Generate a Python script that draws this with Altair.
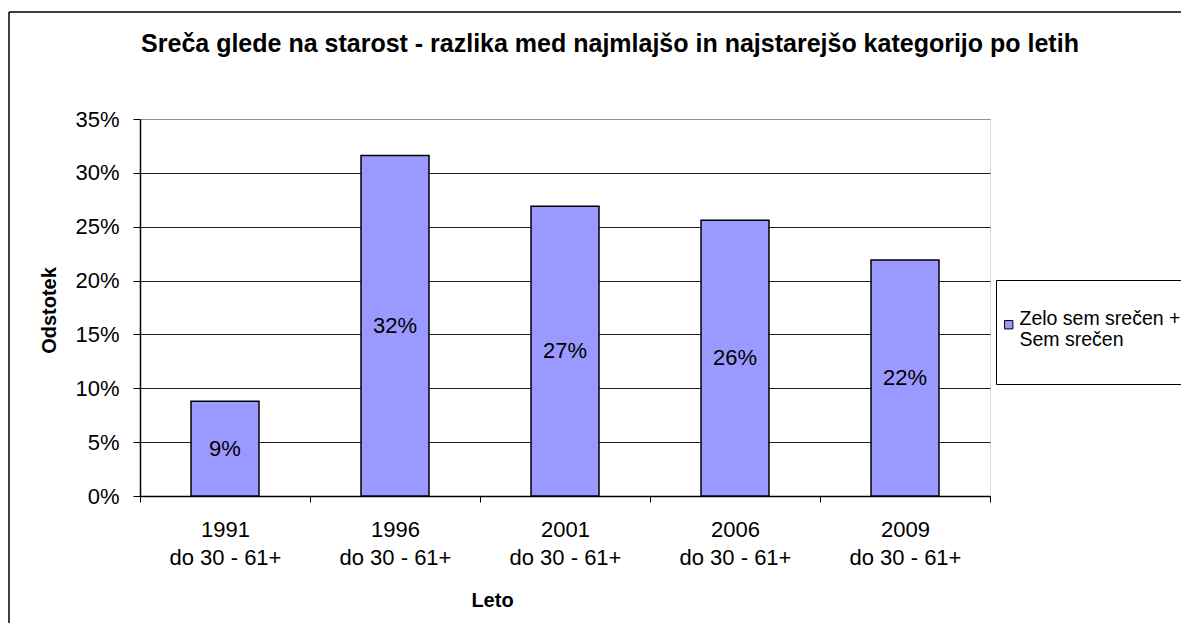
import altair as alt
import pandas as pd

# ---- data ----
years = ["1991", "1996", "2001", "2006", "2009"]
group_label = "do 30 - 61+"
values = [0.088, 0.316, 0.269, 0.256, 0.219]
series_name = "Zelo sem srečen + Sem srečen"
y_ticks = [0, 0.05, 0.10, 0.15, 0.20, 0.25, 0.30, 0.35]

df = pd.DataFrame({
    "cat": [f"{y}\n{group_label}" for y in years],
    "value": values,
    "series": [series_name] * len(years),
})

FONT = "Liberation Sans"
W, H = 850, 377
PAD_L, PAD_T = 132, 111
TOTAL_W, TOTAL_H = 1173, 615

x_enc = alt.X(
    "cat:N", sort=None, title="Leto",
    scale=alt.Scale(paddingInner=0, paddingOuter=0),
    axis=alt.Axis(
        labelExpr="split(datum.label, '\\n')",
        labelAngle=0, labelLineHeight=28, labelPadding=17,
        tickBand="extent", tickSize=6, tickColor="black", tickWidth=1,
        domainColor="black", domainWidth=1.5,
        labelFont=FONT, labelFontSize=22, labelColor="black",
        titleFont=FONT, titleFontSize=20, titleFontWeight="bold", titleColor="black",
        titleX=352, titleY=110, titleAlign="center", titleBaseline="alphabetic",
        grid=False,
    ),
)

y_enc = alt.Y(
    "value:Q", title="Odstotek",
    scale=alt.Scale(domain=[0, 0.35], nice=False),
    axis=alt.Axis(
        values=y_ticks, format=".0%",
        grid=True,
        gridColor=alt.condition("datum.value >= 0.35", alt.value("#909090"), alt.value("#222222")),
        gridWidth=1,
        tickSize=7, tickColor="black", labelPadding=14,
        domainColor="black", domainWidth=1.5,
        labelFont=FONT, labelFontSize=22, labelColor="black",
        titleFont=FONT, titleFontSize=20, titleFontWeight="bold", titleColor="black",
        titleX=-85, titleY=191, titleAlign="center", titleBaseline="alphabetic", titleAngle=-90,
    ),
)

bars = alt.Chart(df).mark_bar(
    width=alt.RelativeBandSize(0.4), stroke="black", strokeWidth=1.5
).encode(
    x=x_enc,
    y=y_enc,
    color=alt.Color(
        "series:N",
        scale=alt.Scale(range=["#9999FF"]),
        legend=alt.Legend(
            orient="none", legendX=856, legendY=161,
            title=" ", titleFontSize=12, titlePadding=11,
            strokeColor="black", fillColor="white", padding=12,
            symbolType="square", symbolSize=70, symbolStrokeColor="black", symbolStrokeWidth=1,
            symbolOffset=-9,
            labelExpr="['Zelo sem srečen +', 'Sem srečen', '']",
            labelFont=FONT, labelFontSize=19.5, labelColor="black", labelOffset=1,
            labelBaseline="alphabetic", labelLimit=400,
        ),
    ),
)

texts = alt.Chart(df).transform_calculate(
    mid="datum.value / 2",
    lab="format(datum.value, '.0%')",
).mark_text(font=FONT, fontSize=22, color="black").encode(
    x=alt.X("cat:N", sort=None),
    y=alt.Y("mid:Q"),
    text="lab:N",
)

frame_df = pd.DataFrame({"a": [0]})
frame_left = alt.Chart(frame_df).mark_rule(color="black", strokeWidth=1.5).encode(
    x=alt.value(-131), y=alt.value(-107), y2=alt.value(800),
)
frame_top = alt.Chart(frame_df).mark_rule(color="black", strokeWidth=1.5).encode(
    x=alt.value(-131), x2=alt.value(1100), y=alt.value(-107),
)

chart = alt.layer(frame_left, frame_top, bars, texts).properties(
    width=W, height=H,
    title=alt.TitleParams(
        "Sreča glede na starost - razlika med najmlajšo in najstarejšo kategorijo po letih",
        font=FONT, fontSize=25, fontWeight="bold", color="black",
        anchor="middle", frame="group", dx=45, dy=66, offset=0, baseline="alphabetic",
    ),
    autosize=alt.AutoSizeParams(type="none"),
    padding={"left": PAD_L, "top": PAD_T, "right": TOTAL_W - PAD_L - W, "bottom": TOTAL_H - PAD_T - H},
).configure_view(
    fill="#C0C0C0", stroke="#808080", strokeWidth=2,
).configure(background="white")

chart.save("out.html", embed_options={"renderer": "svg", "actions": False})
